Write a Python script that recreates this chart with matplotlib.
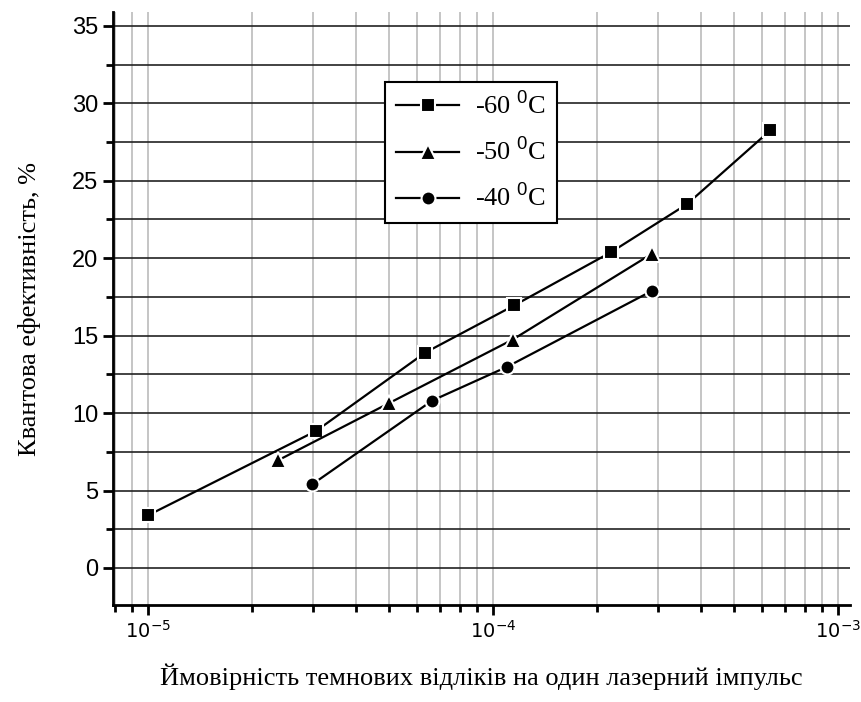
import numpy as np
import matplotlib.pyplot as plt
from matplotlib.ticker import LogLocator, MultipleLocator, NullFormatter

plt.rcParams['mathtext.fontset'] = 'custom'
plt.rcParams['mathtext.rm'] = 'Liberation Sans'
plt.rcParams['mathtext.it'] = 'Liberation Sans'

# дані
x60 = [1.0e-5, 3.07e-5, 6.35e-5, 1.15e-4, 2.2e-4, 3.65e-4, 6.35e-4]
y60 = [3.4, 8.85, 13.9, 16.95, 20.4, 23.5, 28.25]
x50 = [2.38e-5, 5.0e-5, 1.14e-4, 2.89e-4]
y50 = [6.95, 10.65, 14.75, 20.3]
x40 = [2.99e-5, 6.65e-5, 1.1e-4, 2.89e-4]
y40 = [5.4, 10.8, 13.0, 17.9]
labels = ['-60 $^{0}$C', '-50 $^{0}$C', '-40 $^{0}$C']

fig = plt.figure(figsize=(8.61, 7.02), dpi=100)
ax = fig.add_axes([0.131, 0.138, 0.856, 0.845])

st = dict(color='k', lw=1.6, mec='white', mew=1.5)
ax.plot(x60, y60, marker='s', ms=10, label=labels[0], **st)
ax.plot(x50, y50, marker='^', ms=11, label=labels[1], **st)
ax.plot(x40, y40, marker='o', ms=10, label=labels[2], **st)

ax.set_xscale('log')
ax.set_xlim(7.9e-6, 1.08e-3)
ax.set_ylim(-2.4, 35.9)
ax.xaxis.set_major_locator(LogLocator(base=10))
ax.xaxis.set_minor_locator(LogLocator(base=10, subs=np.arange(2, 10)))
ax.xaxis.set_minor_formatter(NullFormatter())
ax.yaxis.set_major_locator(MultipleLocator(5))
ax.yaxis.set_minor_locator(MultipleLocator(2.5))

ax.grid(True, axis='x', which='both', color='#bbbbbb', lw=1.2)
ax.grid(True, axis='y', which='both', color='#222222', lw=1.2)
ax.set_axisbelow(True)

for s in ['top', 'right']:
    ax.spines[s].set_visible(False)
for s in ['left', 'bottom']:
    ax.spines[s].set_linewidth(2)
ax.tick_params(which='major', direction='out', length=7, width=2)
ax.tick_params(which='minor', direction='out', length=5, width=2)
for t in ax.get_yticklabels():
    t.set_family('Liberation Sans')
ax.tick_params(axis='y', labelsize=17)
ax.tick_params(axis='x', labelsize=14)

ax.set_xlabel('Ймовірність темнових відліків на один лазерний імпульс',
              family='Liberation Serif', fontsize=19, labelpad=16)
ax.set_ylabel('Квантова ефективність, %', family='Liberation Serif',
              fontsize=19, labelpad=22)

leg = ax.legend(loc='upper left', bbox_to_anchor=(0.370, 0.882),
                prop={'family': 'Liberation Serif', 'size': 19},
                frameon=True, fancybox=False, edgecolor='black',
                framealpha=1, handlelength=2.4, borderpad=0.4,
                labelspacing=0.72, handletextpad=0.6, borderaxespad=0)
leg.get_frame().set_linewidth(1.5)

fig.savefig('out.png', dpi=100)
